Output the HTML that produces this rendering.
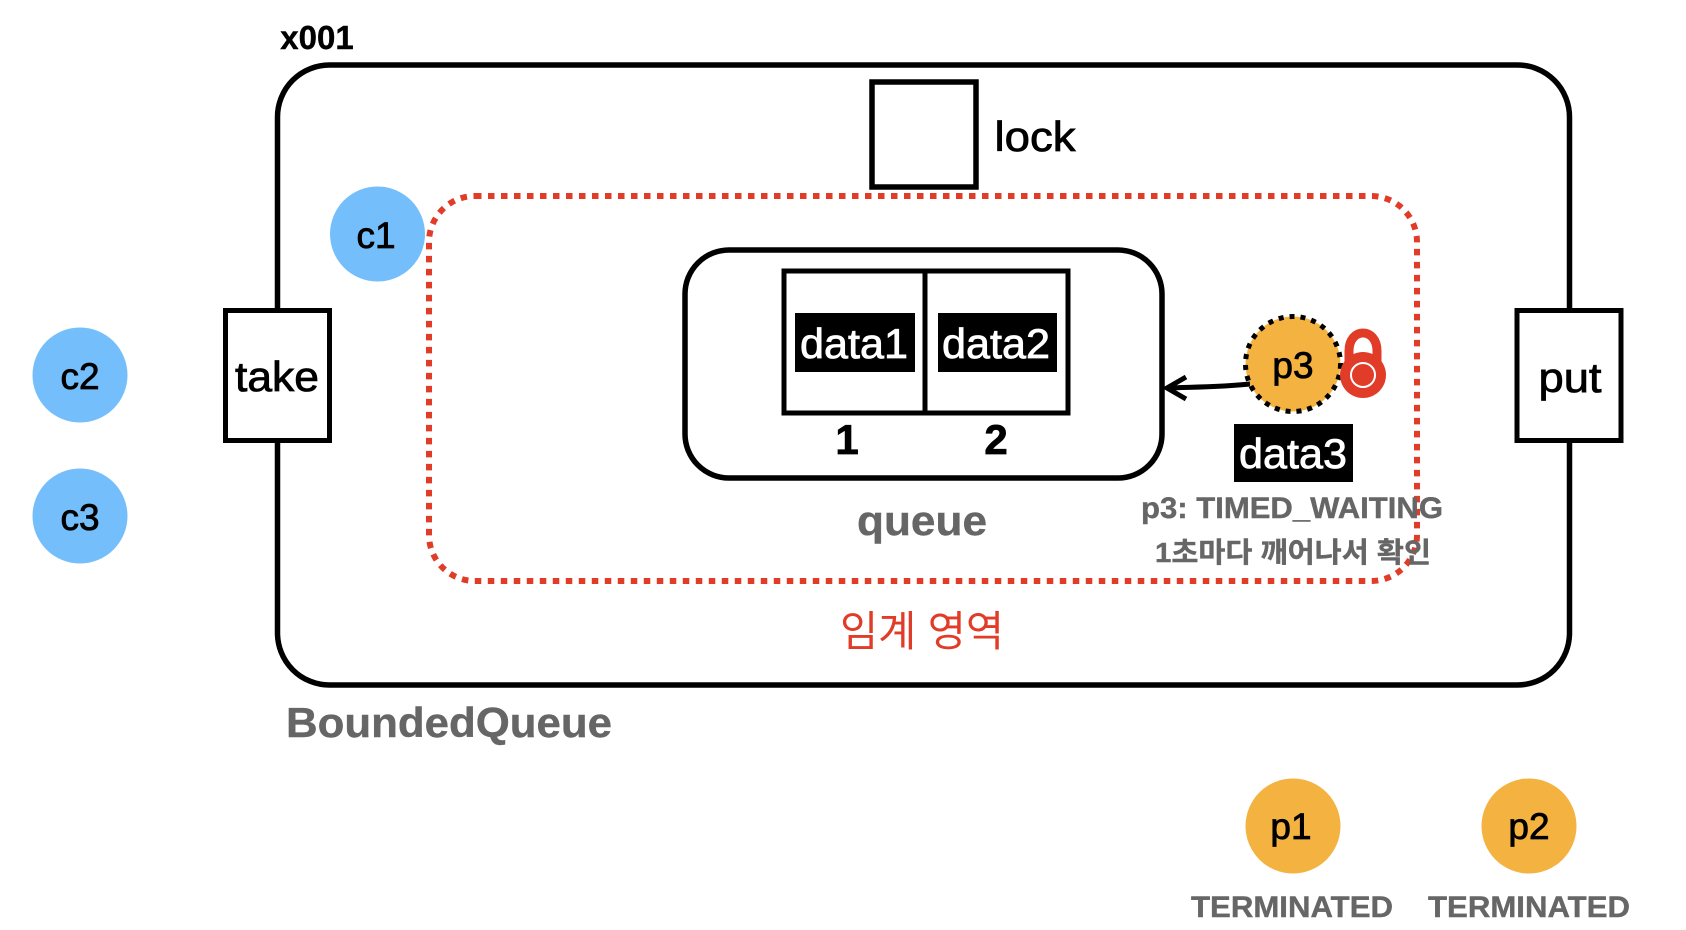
<!DOCTYPE html>
<html><head><meta charset="utf-8"><style>html,body{margin:0;padding:0;background:#fff}svg{display:block}
text{font-family:"Liberation Sans","Noto Sans CJK KR",sans-serif;text-anchor:middle}</style></head>
<body><svg width="1686" height="930" viewBox="0 0 1686 930" xmlns="http://www.w3.org/2000/svg">
<rect width="1686" height="930" fill="#fff"/>
<rect x="277.500" y="65" width="1292" height="620" rx="52" fill="none" stroke="#000" stroke-width="5.500"/>
<rect x="429" y="196" width="988" height="385" rx="46" fill="none" stroke="#e03c28" stroke-width="6" stroke-dasharray="6.500 6.500"/>
<rect x="872" y="82" width="104" height="105" fill="#fff" stroke="#000" stroke-width="5.500"/>
<rect x="685" y="250" width="477" height="228" rx="44" fill="#fff" stroke="#000" stroke-width="5.500"/>
<rect x="784" y="271" width="284" height="142" fill="#fff" stroke="#000" stroke-width="5"/>
<line x1="925" y1="271" x2="925" y2="413" stroke="#000" stroke-width="5"/>
<rect x="795" y="313" width="120" height="59" fill="#000"/>
<rect x="938" y="313" width="119" height="59" fill="#000"/>
<rect x="1234" y="424" width="119" height="58" fill="#000"/>
<rect x="225.500" y="310.500" width="104" height="130" fill="#fff" stroke="#000" stroke-width="5"/>
<rect x="1517" y="310.500" width="104" height="130" fill="#fff" stroke="#000" stroke-width="5"/>
<circle cx="377.500" cy="234" r="47.500" fill="#74bffb"/>
<circle cx="80" cy="375" r="47.500" fill="#74bffb"/>
<circle cx="80" cy="516" r="47.500" fill="#74bffb"/>
<circle cx="1293" cy="826" r="47.500" fill="#f4b340"/>
<circle cx="1529" cy="826" r="47.500" fill="#f4b340"/>
<circle cx="1293" cy="364" r="47.500" fill="#f4b340" stroke="#000" stroke-width="5" stroke-dasharray="5 6"/>
<path d="M1250 384 C1222 387 1195 387 1168 388" fill="none" stroke="#000" stroke-width="5"/>
<path d="M1186 377 L1167 388 L1186 399" fill="none" stroke="#000" stroke-width="5"/>
<path d="M1349 366 V351 C1349 327 1377 327 1377 351 V366" fill="none" stroke="#e03c28" stroke-width="9"/>
<circle cx="1363" cy="375" r="23" fill="#e03c28"/>
<circle cx="1363" cy="375" r="12" fill="none" stroke="#fff" stroke-width="2"/>
<g font-size="42" fill="#000" stroke="#000" stroke-width=".8">
<text x="376" y="248" font-size="37">c1</text>
<text x="80" y="389" font-size="37">c2</text>
<text x="80" y="530" font-size="37">c3</text>
<text x="1291" y="839" font-size="37">p1</text>
<text x="1529" y="839" font-size="37">p2</text>
<text x="1293" y="378" font-size="37">p3</text>
<text x="277" y="391" textLength="84" lengthAdjust="spacingAndGlyphs">take</text>
<text x="1570" y="392" textLength="63" lengthAdjust="spacingAndGlyphs">put</text>
<text x="1035" y="151" textLength="81" lengthAdjust="spacingAndGlyphs">lock</text>
<text x="847" y="454" font-weight="bold" font-size="42">1</text>
<text x="996" y="454" font-weight="bold" font-size="42">2</text>
<text x="317" y="49" font-size="33" font-weight="bold" stroke-width=".4">x001</text>
</g>
<g font-size="42" fill="#fff" stroke="#fff" stroke-width=".8">
<text x="854" y="358" textLength="108" lengthAdjust="spacingAndGlyphs">data1</text>
<text x="996" y="358" textLength="108" lengthAdjust="spacingAndGlyphs">data2</text>
<text x="1293" y="468" textLength="108" lengthAdjust="spacingAndGlyphs">data3</text>
</g>
<g fill="#666" font-weight="bold" stroke="#666" stroke-width=".4">
<text x="922" y="535" font-size="42" textLength="130" lengthAdjust="spacingAndGlyphs">queue</text>
<text x="449" y="737" font-size="42" textLength="326" lengthAdjust="spacingAndGlyphs">BoundedQueue</text>
<text x="1292" y="518" font-size="30" textLength="302" lengthAdjust="spacingAndGlyphs">p3: TIMED_WAITING</text>
<text x="1293" y="562" font-size="28" textLength="276" lengthAdjust="spacingAndGlyphs">1초마다 깨어나서 확인</text>
<text x="1292" y="917" font-size="30" textLength="202" lengthAdjust="spacingAndGlyphs">TERMINATED</text>
<text x="1529" y="917" font-size="30" textLength="202" lengthAdjust="spacingAndGlyphs">TERMINATED</text>
</g>
<text x="922" y="646" font-size="42" fill="#e03c28" textLength="164" lengthAdjust="spacingAndGlyphs">임계 영역</text>
</svg></body></html>
